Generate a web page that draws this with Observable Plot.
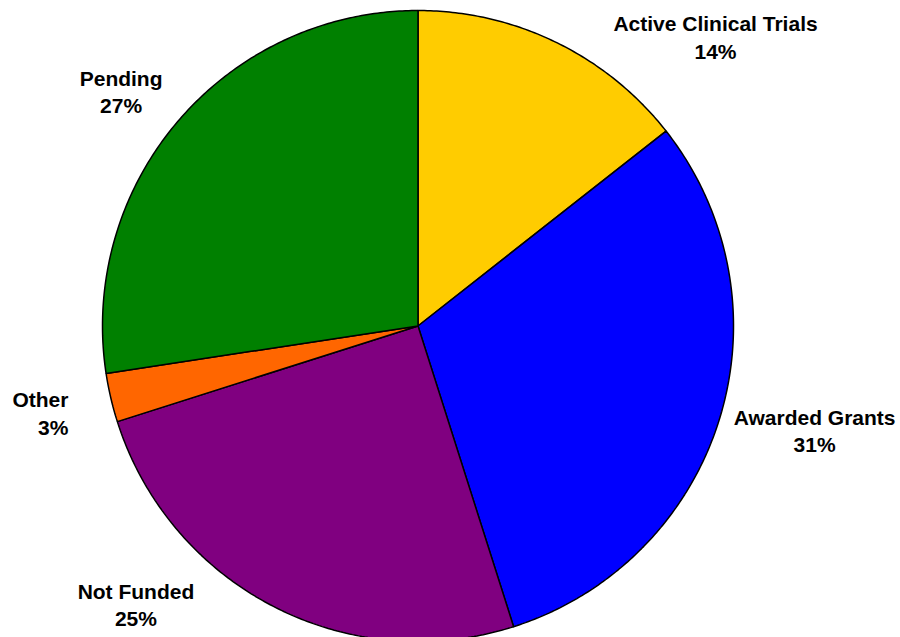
<!DOCTYPE html>
<html>
<head>
<meta charset="utf-8">
<script src="https://cdn.jsdelivr.net/npm/d3@7"></script>
<script src="https://cdn.jsdelivr.net/npm/@observablehq/plot@0.6"></script>
<style>
  html, body { margin: 0; padding: 0; background: #ffffff; }
  #chart { width: 900px; height: 637px; overflow: hidden; }
</style>
</head>
<body>
<div id="chart"></div>
<script>
// ---- Data ----
const categories = ["Active Clinical Trials", "Awarded Grants", "Not Funded", "Other", "Pending"];
const values = [14.4, 30.7, 25.0, 2.5, 27.4];
const percentLabels = ["14%", "31%", "25%", "3%", "27%"];
const colors = ["#FFCC00", "#0000FF", "#800080", "#FF6600", "#008000"];

// ---- Slice geometry (unit circle, clockwise from 12 o'clock) ----
const pie = d3.pie().sort(null).value(d => d.value).startAngle(0).endAngle(2 * Math.PI);
const arcs = pie(categories.map((name, i) => ({name, value: values[i]})));

const slicePts = [];
for (const a of arcs) {
  const name = a.data.name;
  slicePts.push({name, x: 0, y: 0});
  const n = Math.max(4, Math.ceil((a.endAngle - a.startAngle) / 0.01));
  for (let k = 0; k <= n; ++k) {
    const t = a.startAngle + (a.endAngle - a.startAngle) * k / n;
    slicePts.push({name, x: Math.sin(t), y: Math.cos(t)});
  }
}

// label anchor placement (unit-circle coordinates), as in the reference layout
const labelAnchor = {
  "Active Clinical Trials": [0.943, 0.918, "middle"],
  "Awarded Grants": [1.257, -0.330, "middle"],
  "Not Funded": [-0.894, -0.881, "middle"],
  "Other": [-1.108, -0.273, "end"],
  "Pending": [-0.941, 0.746, "middle"]
};
const labels = categories.map((name, i) => ({
  text: name + "\n" + percentLabels[i],
  x: labelAnchor[name][0],
  y: labelAnchor[name][1],
  anchor: labelAnchor[name][2]
}));

const textOpts = {
  fontFamily: "'Liberation Sans', Arial, sans-serif",
  fontWeight: "bold",
  fontSize: 21,
  lineHeight: 1.3,
  fill: "black"
};

const plot = Plot.plot({
  width: 900,
  height: 637,
  margin: 0,
  style: {background: "white", overflow: "hidden"},
  x: {domain: [-1, 1], range: [102, 733], axis: null},
  y: {domain: [-1, 1], range: [641, 10], axis: null},
  color: {domain: categories, range: colors},
  marks: [
    Plot.line(slicePts, {
      x: "x", y: "y", z: "name",
      fill: "name",
      stroke: "black",
      strokeWidth: 1.5,
      strokeLinejoin: "miter",
      curve: "linear-closed"
    }),
    Plot.text(labels.filter(d => d.anchor === "middle"), {
      x: "x", y: "y", text: "text", textAnchor: "middle", ...textOpts
    }),
    Plot.text(labels.filter(d => d.anchor === "end"), {
      x: "x", y: "y", text: "text", textAnchor: "end", ...textOpts
    })
  ]
});
document.getElementById("chart").appendChild(plot);
</script>
</body>
</html>
